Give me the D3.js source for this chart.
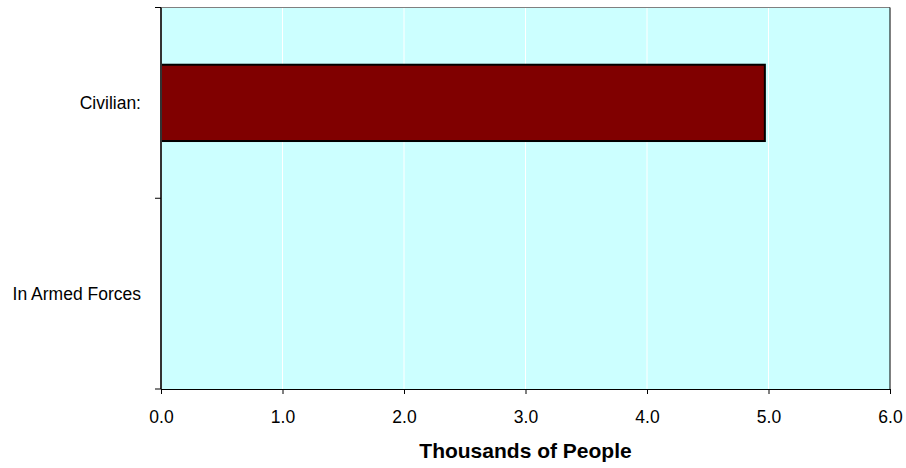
<!DOCTYPE html>
<html><head><meta charset="utf-8">
<script src="https://cdn.jsdelivr.net/npm/d3@7"></script>
<style>body{margin:0;background:#fff}svg{display:block}text{font-family:"Liberation Sans",Arial,sans-serif}</style>
</head><body><svg id="c" width="906" height="468"></svg>
<script>
const categories = ["Civilian:", "In Armed Forces"];
const values = [4.97, 0];
const xTicks = [0, 1, 2, 3, 4, 5, 6];
const xTitle = "Thousands of People";

const svg = d3.select("#c");
const L = 161, R = 890, T = 7.5, B = 389;
const x = d3.scaleLinear().domain([0, 6]).range([L, R]);
const y = d3.scaleBand().domain(categories).range([T, B]).paddingInner(0.6).paddingOuter(0.3);

svg.append("rect").attr("x", L).attr("y", T).attr("width", R - L).attr("height", B - T).attr("fill", "#ccffff");
svg.append("g").selectAll("line").data(xTicks.slice(1, -1)).join("line")
  .attr("x1", d => x(d)).attr("x2", d => x(d)).attr("y1", T).attr("y2", B)
  .attr("stroke", "#ffffff").attr("stroke-width", 1);
// borders
svg.append("line").attr("x1", 155).attr("x2", R).attr("y1", T).attr("y2", T).attr("stroke", "#808080");
svg.append("line").attr("x1", R).attr("x2", R).attr("y1", T).attr("y2", B).attr("stroke", "#000");

svg.append("g").selectAll("rect").data(categories.map((c, i) => ({c, v: values[i]}))).join("rect")
  .attr("x", x(0)).attr("y", d => y(d.c)).attr("width", d => x(d.v) - x(0)).attr("height", y.bandwidth())
  .attr("fill", d => d.v > 0 ? "#800000" : "none").attr("stroke", d => d.v > 0 ? "#000" : "none").attr("stroke-width", 2);

// x axis
const xa = svg.append("g").attr("transform", `translate(0,${B})`)
  .call(d3.axisBottom(x).tickValues(xTicks).tickFormat(d3.format(".1f")).tickSize(5).tickSizeOuter(0));
xa.select(".domain").attr("stroke", "#000");
xa.selectAll("text").attr("font-size", 17.5).attr("fill", "#000").attr("y", 34).attr("dy", 0).attr("font-family", '"Liberation Sans",Arial,sans-serif');

// y axis
const ya = svg.append("g").attr("transform", `translate(${L},0)`);
ya.append("line").attr("x1", 0).attr("x2", 0).attr("y1", T).attr("y2", B).attr("stroke", "#333").attr("stroke-width", 2);
const yTickPos = [T, (T + B) / 2, B];
ya.selectAll(".yt").data(yTickPos).join("line").attr("class", "yt")
  .attr("x1", -6).attr("x2", 0).attr("y1", d => d).attr("y2", d => d).attr("stroke", "#000");
ya.selectAll(".yl").data(categories).join("text").attr("class", "yl")
  .attr("x", -20).attr("y", d => y(d) + y.bandwidth() / 2 + 6)
  .attr("text-anchor", "end").attr("font-size", 17.5).attr("fill", "#000").text(d => d);

svg.append("text").attr("x", (L + R) / 2).attr("y", 458).attr("text-anchor", "middle")
  .attr("font-size", 21).attr("font-weight", "bold").attr("fill", "#000").text(xTitle);
</script></body></html>
